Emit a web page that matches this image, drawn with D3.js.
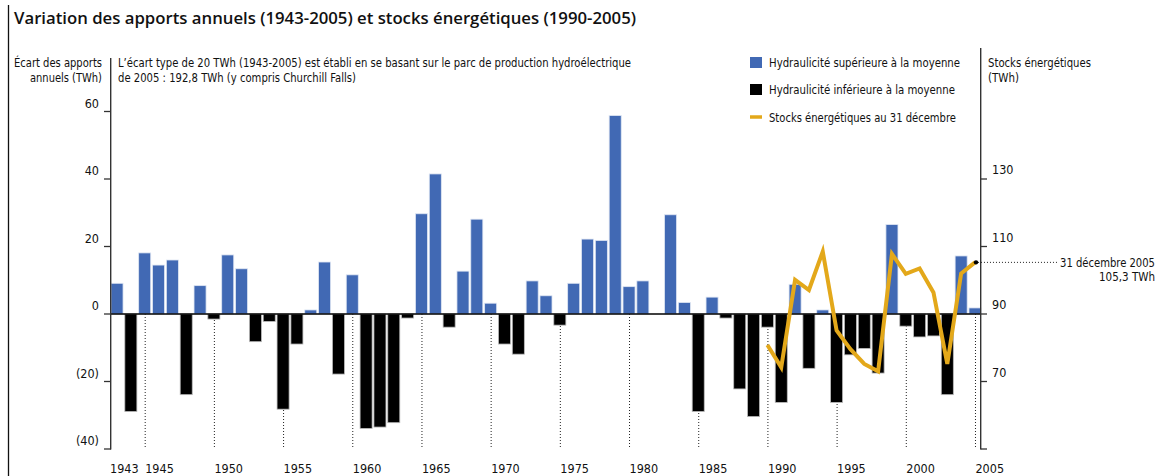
<!DOCTYPE html>
<html>
<head>
<meta charset="utf-8">
<script src="https://cdn.jsdelivr.net/npm/d3@7"></script>
<style>
  body { margin: 0; background: #fff; }
  svg { display: block; }
  .narrow { font-family: 'Liberation Sans Narrow', 'DejaVu Sans Condensed', 'Roboto Condensed', sans-serif; fill: #111; }
</style>
</head>
<body>
<div id="chart"></div>
<script>
// écart des apports annuels (TWh), 1943 -> 2005
const years = d3.range(1943, 2006)
const apports = [
  9.1, -28.9, 18.1, 14.5, 16.0, -23.9, 8.4, -1.5, 17.5, 13.4,
  -8.2, -2.2, -28.2, -8.9, 1.2, 15.4, -17.8, 11.6, -33.9, -33.5,
  -32.2, -1.2, 29.7, 41.5, -3.9, 12.7, 28.1, 3.2, -8.9, -11.9,
  9.8, 5.4, -3.3, 9.1, 22.2, 21.8, 58.8, 8.1, 9.8, 0,
  29.4, 3.4, -28.9, 5.0, -1.2, -22.2, -30.4, -3.9, -26.2, 8.8,
  -16.1, 1.2, -26.2, -12.1, -10.2, -17.5, 26.5, -3.6, -6.8, -6.5,
  -23.9, 17.2, 1.8
]
// stocks énergétiques au 31 décembre (TWh)
const stockYears = d3.range(1990, 2006)
const stocks = [80.8, 74.2, 100.1, 97.1, 108.5, 85.1, 79.6, 75.2, 73.0, 107.8, 101.9, 103.5, 96.4, 75.2, 102.0, 105.3]

const leftTicks = [-40, -20, 0, 20, 40, 60]
const rightTicks = [50, 70, 90, 110, 130]
const yearLabels = [1943, 1945, 1950, 1955, 1960, 1965, 1970, 1975, 1980, 1985, 1990, 1995, 2000, 2005]
const legendItems = [
  {label: 'Hydraulicité supérieure à la moyenne', type: 'box', color: '#4169b4'},
  {label: 'Hydraulicité inférieure à la moyenne', type: 'box', color: '#000'},
  {label: 'Stocks énergétiques au 31 décembre', type: 'line', color: '#e3a81a'}
]

const width = 1168, height = 476
const BLUE = '#4169b4', GOLD = '#e3a81a'

const svg = d3.select('#chart').append('svg').attr('width', width).attr('height', height)

const xScale = d3.scaleBand().domain(years).range([111, 981]).paddingInner(0.13).paddingOuter(0)
const yLeft = d3.scaleLinear().domain([-40, 60]).range([449, 111.5])
const yRight = d3.scaleLinear().domain([50, 150]).range([449, 111.5])
const cx = y => xScale(y) + xScale.bandwidth() / 2

// left frame line
svg.append('line').attr('x1', 8.5).attr('x2', 8.5).attr('y1', 5).attr('y2', height).attr('stroke', '#111').attr('stroke-width', 1.3)

// title
svg.append('text')
  .attr('x', 14).attr('y', 24)
  .attr('textLength', 622).attr('lengthAdjust', 'spacingAndGlyphs')
  .style('font-family', "'Open Sans', sans-serif").style('font-weight', 600).style('font-size', '17px').attr('fill', '#111')
  .text('Variation des apports annuels (1943-2005) et stocks énergétiques (1990-2005)')

// helper for condensed texts
function label(x, y, txt, anchor, len, size) {
  const t = svg.append('text').attr('class', 'narrow')
    .attr('x', x).attr('y', y).attr('text-anchor', anchor || 'start')
    .style('font-size', (size || 12) + 'px').text(txt)
  if (len) t.attr('textLength', len).attr('lengthAdjust', 'spacingAndGlyphs')
  return t
}

label(102, 67, 'Écart des apports', 'end', 88)
label(102, 82, 'annuels (TWh)', 'end', 72)
label(118, 67, "L’écart type de 20 TWh (1943-2005) est établi en se basant sur le parc de production hydroélectrique", 'start', 513)
label(118, 82, 'de 2005 : 192,8 TWh (y compris Churchill Falls)', 'start', 238)
label(988, 67, 'Stocks énergétiques', 'start', 103)
label(988, 82, '(TWh)', 'start', 31)

// legend
const legendY = [62.5, 89.5, 117]
const legendW = [191, 186, 187]
legendItems.forEach((d, i) => {
  if (d.type === 'box') {
    svg.append('rect').attr('x', 750).attr('y', legendY[i] - 5.5).attr('width', 12).attr('height', 11).attr('fill', d.color)
  } else {
    svg.append('line').attr('x1', 750).attr('x2', 762).attr('y1', legendY[i]).attr('y2', legendY[i])
      .attr('stroke', d.color).attr('stroke-width', 3.5)
  }
  label(769, legendY[i] + 4.5, d.label, 'start', legendW[i])
})

// dotted year guides
svg.append('g').selectAll('line')
  .data(yearLabels.filter(y => y !== 1943))
  .enter().append('line')
  .attr('x1', d => cx(d) + 0.5).attr('x2', d => cx(d) + 0.5)
  .attr('y1', yLeft(0)).attr('y2', 449)
  .attr('stroke', '#222').attr('stroke-width', 1).attr('stroke-dasharray', '1,2')

// bars
svg.append('g').selectAll('rect')
  .data(years.map((y, i) => ({year: y, value: apports[i]})).filter(d => d.value !== 0))
  .enter().append('rect')
  .attr('x', d => xScale(d.year))
  .attr('y', d => yLeft(Math.max(0, d.value)))
  .attr('width', xScale.bandwidth())
  .attr('height', d => Math.abs(yLeft(d.value) - yLeft(0)))
  .attr('fill', d => d.value > 0 ? BLUE : '#000')
  .attr('stroke', d => d.value > 0 ? '#dfe6f3' : '#bbb')
  .attr('stroke-width', 0.8)

// zero line
svg.append('line').attr('x1', 111).attr('x2', 981).attr('y1', yLeft(0)).attr('y2', yLeft(0))
  .attr('stroke', '#000').attr('stroke-width', 1.3)

// left axis
const axisL = svg.append('g')
axisL.append('line').attr('x1', 110.7).attr('x2', 110.7).attr('y1', 58).attr('y2', 449.5).attr('stroke', '#333').attr('stroke-width', 1.4)
axisL.selectAll('.tick').data(leftTicks).enter().append('line')
  .attr('x1', 104).attr('x2', 111).attr('y1', d => yLeft(d)).attr('y2', d => yLeft(d))
  .attr('stroke', '#333').attr('stroke-width', 1.3)
axisL.selectAll('text').data(leftTicks).enter().append('text')
  .attr('class', 'narrow').attr('x', 99).attr('y', d => yLeft(d) - 4)
  .attr('text-anchor', 'end').style('font-size', '12.5px')
  .text(d => d < 0 ? '(' + Math.abs(d) + ')' : d)

// right axis
const axisR = svg.append('g')
axisR.append('line').attr('x1', 980.7).attr('x2', 980.7).attr('y1', 48).attr('y2', 449.5).attr('stroke', '#333').attr('stroke-width', 1.4)
axisR.selectAll('.tick').data(rightTicks).enter().append('line')
  .attr('x1', 980.7).attr('x2', 987).attr('y1', d => yRight(d)).attr('y2', d => yRight(d))
  .attr('stroke', '#333').attr('stroke-width', 1.3)
axisR.selectAll('text').data(rightTicks.filter(d => d !== 50)).enter().append('text')
  .attr('class', 'narrow').attr('x', 992).attr('y', d => yRight(d) - 5)
  .style('font-size', '12.5px')
  .text(d => d)

// x labels
svg.append('g').selectAll('text')
  .data(yearLabels)
  .enter().append('text')
  .attr('class', 'narrow')
  .attr('x', d => d === 1943 ? 110 : cx(d) + 0.5)
  .attr('y', 473)
  .style('font-size', '12.5px')
  .text(d => d)

// stocks line
const line = d3.line().x(d => cx(d.year)).y(d => yRight(d.value))
const stockData = stockYears.map((y, i) => ({year: y, value: stocks[i]}))
svg.append('path').datum(stockData)
  .attr('d', line)
  .attr('fill', 'none').attr('stroke', GOLD).attr('stroke-width', 4)
  .attr('stroke-linejoin', 'miter')

// annotation for 2005
const last = stockData[stockData.length - 1]
svg.append('circle').attr('cx', cx(last.year) + 1).attr('cy', yRight(last.value)).attr('r', 2.2).attr('fill', '#000')
svg.append('line')
  .attr('x1', cx(last.year) + 3).attr('x2', 1058)
  .attr('y1', yRight(last.value)).attr('y2', yRight(last.value))
  .attr('stroke', '#222').attr('stroke-dasharray', '1,2')
label(1155, yRight(last.value) + 5, '31 décembre 2005', 'end', 95)
label(1155, yRight(last.value) + 19, '105,3 TWh', 'end', 56)
</script>
</body>
</html>
